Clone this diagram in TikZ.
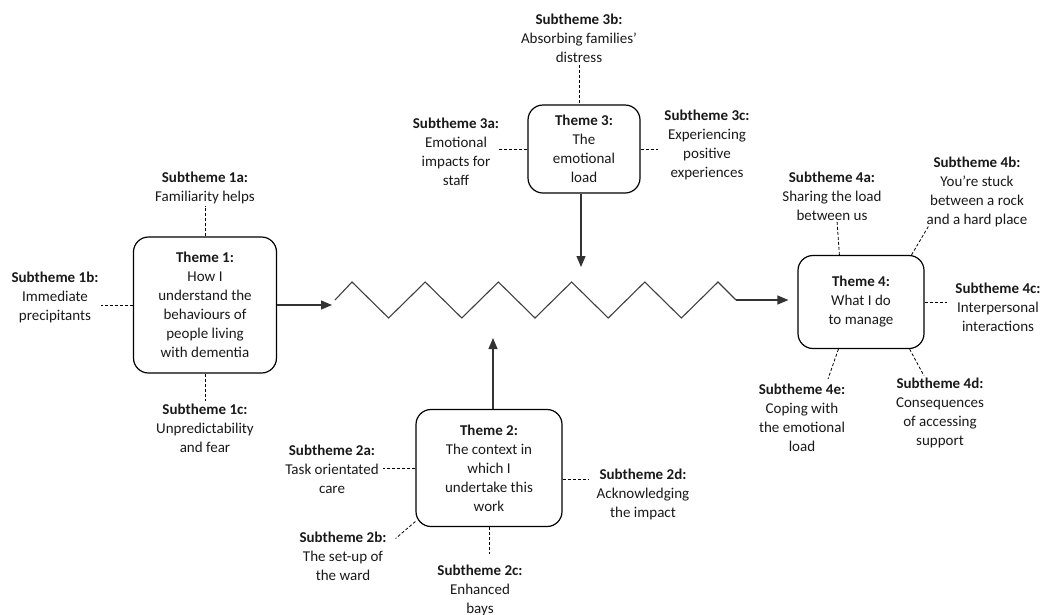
\documentclass[tikz,border=0pt]{standalone}
\usepackage{fontspec}
\setmainfont{Carlito}
\usetikzlibrary{arrows.meta,calc}
\tikzset{
  txt/.style={align=center,inner sep=2pt,font=\fontsize{15}{19}\selectfont,text=black!90},
  theme/.style={txt,draw=black,line width=1.2pt,rounded corners=15pt},
  dashline/.style={draw=black,line width=0.8pt,dash pattern=on 3pt off 2pt},
  mainarrow/.style={draw=black!80,line width=1.2pt,-{Triangle[length=11pt,width=9pt]}},
  zig/.style={draw=black!75,line width=1.1pt,line join=miter}
}
\begin{document}
\begin{tikzpicture}[x=1pt,y=-1pt]
\useasboundingbox (0,0) rectangle (1042,614);
% Themes
\node[theme,minimum width=143pt,minimum height=136pt] (t1) at (205,305)
  {\textbf{Theme 1:}\\How I\\understand the\\behaviours of\\people living\\with dementia};
\node[theme,minimum width=112pt,minimum height=88pt] (t3) at (584,149)
  {\textbf{Theme 3:}\\The\\emotional\\load};
\node[theme,minimum width=146pt,minimum height=117pt] (t2) at (489,468)
  {\textbf{Theme 2:}\\The context in\\which I\\undertake this\\work};
\node[theme,minimum width=126pt,minimum height=93pt] (t4) at (861,302)
  {\textbf{Theme 4:}\\What I do\\to manage};
% Subthemes
\node[txt] (s1a) at (205,188) {\textbf{Subtheme 1a:}\\Familiarity helps};
\node[txt] (s1b) at (55,297) {\textbf{Subtheme 1b:}\\Immediate\\precipitants};
\node[txt] (s1c) at (205,428) {\textbf{Subtheme 1c:}\\Unpredictability\\and fear};
\node[txt] (s3b) at (579,38) {\textbf{Subtheme 3b:}\\Absorbing families’\\distress};
\node[txt] (s3a) at (456,152) {\textbf{Subtheme 3a:}\\Emotional\\impacts for\\staff};
\node[txt] (s3c) at (707,145) {\textbf{Subtheme 3c:}\\Experiencing\\positive\\experiences};
\node[txt] (s2a) at (332,469) {\textbf{Subtheme 2a:}\\Task orientated\\care};
\node[txt] (s2b) at (343,556) {\textbf{Subtheme 2b:}\\The set-up of\\the ward};
\node[txt] (s2c) at (480,590) {\textbf{Subtheme 2c:}\\Enhanced\\bays};
\node[txt] (s2d) at (643,494) {\textbf{Subtheme 2d:}\\Acknowledging\\the impact};
\node[txt] (s4a) at (832,196) {\textbf{Subtheme 4a:}\\Sharing the load\\between us};
\node[txt] (s4b) at (977,192) {\textbf{Subtheme 4b:}\\You’re stuck\\between a rock\\and a hard place};
\node[txt] (s4c) at (998,307) {\textbf{Subtheme 4c:}\\Interpersonal\\interactions};
\node[txt] (s4d) at (940,413) {\textbf{Subtheme 4d:}\\Consequences\\of accessing\\support};
\node[txt] (s4e) at (802,418) {\textbf{Subtheme 4e:}\\Coping with\\the emotional\\load};
% Zigzag
\coordinate (zs) at (335,300);
\coordinate (ze) at (736,300);
\coordinate (z3) at (581,267);
\coordinate (z2) at (493,338);
\draw[zig] (zs) -- ++(17,-18)
  \foreach \i in {1,...,5} { -- ++(36.6,36) -- ++(36.6,-36) } -- (ze);
% Main arrows
\draw[mainarrow,shorten >=3pt] (t1.east) -- (t1.east -| zs);
\draw[mainarrow,shorten >=9pt] (ze) -- (ze -| t4.west);
\draw[mainarrow] (t3.south -| z3) -- (z3);
\draw[mainarrow] (t2.north -| z2) -- (z2);
% Dashed connectors
\draw[dashline] (t1.north) -- (t1.north |- s1a.south);
\draw[dashline] (t1.west) -- (t1.west -| s1b.east);
\draw[dashline] (t1.south) -- (t1.south |- s1c.north);
\draw[dashline] (s3b.south) -- (s3b.south |- t3.north);
\draw[dashline] (t3.west) -- ($(t3.west -| s3a.east)+(-2,0)$);
\draw[dashline] (t3.east) -- ($(t3.east -| s3c.west)+(-4,0)$);
\draw[dashline] (t2.west) -- ($(t2.west -| s2a.east)+(2,0)$);
\draw[dashline] (t2.216) -- ($(s2b.north east)+(7,9)$);
\draw[dashline] (t2.south) -- ($(t2.south |- s2c.north)+(0,-8)$);
\draw[dashline] ($(t2.east)+(0,11)$) -- ($(t2.east -| s2d.west)+(-6,11)$);
\draw[dashline] ($(t4.north west)+(42,0)$) -- ($(s4a.south)+(5,-2)$);
\draw[dashline] (t4.43) -- ($(s4b.south west)+(4,-3)$);
\draw[dashline] (t4.east) -- ($(t4.east -| s4c.west)+(-6,0)$);
\draw[dashline] ($(t4.south east)+(-15,0)$) -- ($(s4d.north)+(-16,0)$);
\draw[dashline] ($(t4.south west)+(41,0)$) -- ($(s4e.north)+(26,-3)$);
\end{tikzpicture}
\end{document}
